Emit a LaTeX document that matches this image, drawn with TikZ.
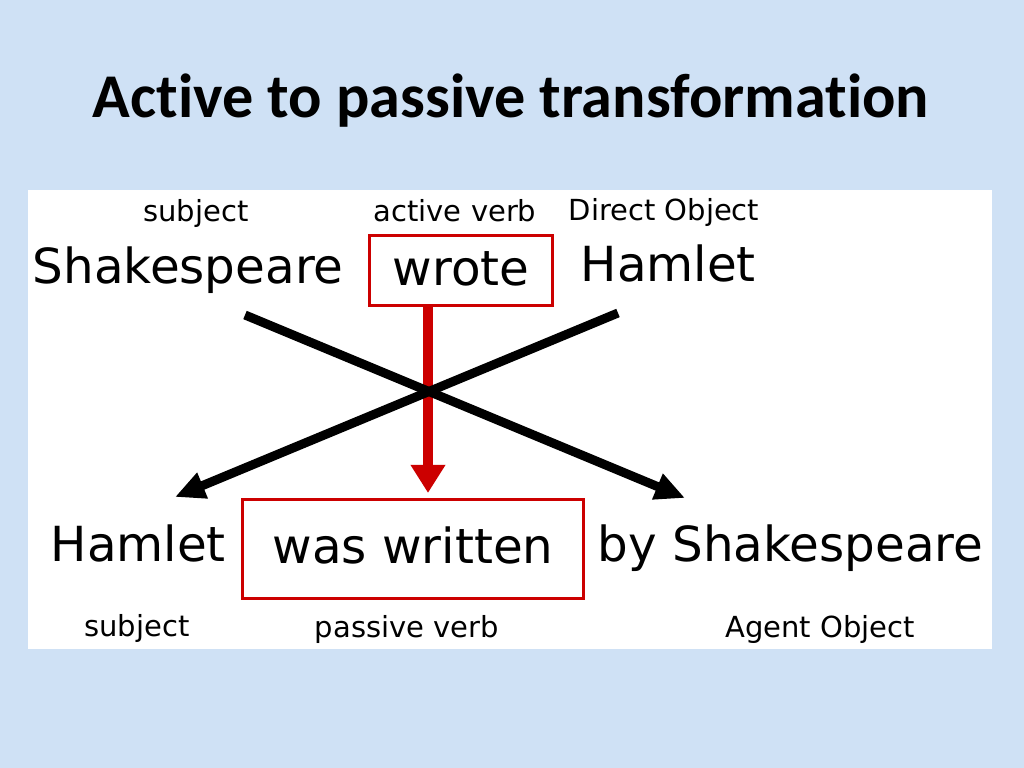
\documentclass[tikz,border=0pt]{standalone}
\usepackage{fontspec}
\setmainfont{DejaVu Sans}
\newfontfamily\titlefont[Ligatures={NoCommon,NoRare}]{Carlito}
\usetikzlibrary{arrows.meta,positioning}
\definecolor{slide}{RGB}{207,225,245}
\definecolor{verbred}{RGB}{204,0,0}
\begin{document}
\begin{tikzpicture}[x=0.01cm,y=-0.01cm]
    \tikzstyle{word}=[inner sep=0pt,anchor=base west,font=\fontsize{13.75}{16}\selectfont]
    \tikzstyle{role}=[inner sep=0pt,anchor=base,font=\fontsize{8.25}{10}\selectfont]
    \tikzstyle{verb}=[rectangle,draw=verbred,line width=0.85pt,inner sep=0pt,text height=10.4pt,text depth=2pt,font=\fontsize{13.75}{16}\selectfont]
    \tikzstyle{crossline}=[line width=2.56pt,-{Triangle[length=8.5pt,width=7.4pt]}]
    \tikzstyle{verbline}=[line width=3.1pt,draw=verbred,-{Triangle[length=8pt,width=9.4pt]}]

    \useasboundingbox (0,0) rectangle (1024,768);
    \fill[slide] (0,0) rectangle (1024,768);
    \fill[white] (28,190) rectangle (992,649);

    \node[anchor=base,inner sep=0pt,font=\titlefont\bfseries\fontsize{17.7}{20}\selectfont](title) at (511,118){Active to passive transformation};

    \begin{scope}
      \node[word](shakes1) at (32,284){Shakespeare};
      \node[verb,minimum width=1.82cm,minimum height=0.69cm](wrote) at (461,270.5){wrote};
      \node[word](hamlet1) at (580,282){Hamlet};
      \node[role](subj1) at (196,222){subject};
      \node[role](active) at (455,222){active verb};
      \node[role](direct) at (664,221){Direct Object};
    \end{scope}

    \begin{scope}
      \node[word](hamlet2) at (50,562){Hamlet};
      \node[verb,minimum width=3.4cm,minimum height=0.98cm](written) at (413,549){was written};
      \node[word](shakes2) at (597,562){by Shakespeare};
      \node[role](subj2) at (137,637){subject};
      \node[role](passive) at (407,638){passive verb};
      \node[role](agent) at (820,638){Agent Object};
    \end{scope}

    \coordinate(subjstart) at (245,315);
    \coordinate(objstart) at (618,313);
    \coordinate(subjtip) at (175,497);
    \coordinate(agenttip) at (685,498);
    \coordinate(cross) at (428,390);
    \coordinate(verbtip) at (428,493);

    \draw[verbline] (wrote.south -| cross) -- (verbtip);
    \path[crossline]
    (subjstart) edge (agenttip)
    (objstart) edge (subjtip);
  \end{tikzpicture}
\end{document}
